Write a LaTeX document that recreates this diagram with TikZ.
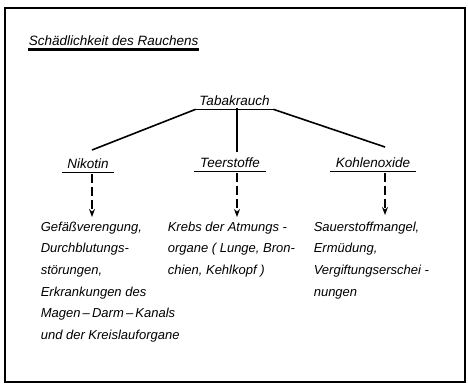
\documentclass[tikz,border=0pt]{standalone}
\usepackage{fontspec}
\setmainfont{Liberation Sans}
\usetikzlibrary{arrows.meta, positioning}

\begin{document}
\begin{tikzpicture}[x=1pt, y=-1pt, >={Stealth[length=8pt, width=6pt]}, line width=1.6pt,
        head/.style={font=\itshape\fontsize{13.5}{15}\selectfont, inner xsep=5pt, inner ysep=0pt, text height=10pt, text depth=3pt},
        effect/.style={font=\itshape\fontsize{13}{21.6}\selectfont, align=left, inner sep=0pt, anchor=north west},
        branch/.style={draw},
        cause/.style={draw, dashed, dash pattern=on 9pt off 4pt, ->}]
        \useasboundingbox (0,0) rectangle (468,386);
        \draw[line width=1.8pt] (5,8) rectangle (465,382);

        % title
        \node [head, anchor=south west, inner xsep=0pt] (title) at (28,49) {Schädlichkeit des Rauchens};
        \draw [line width=3pt] (title.south west) -- (title.south east);

        % tree
        \node [head] (smoke) at (234.5,102) {Tabakrauch};
        \draw (smoke.south west) -- (smoke.south east);
        \node [head] (nic) at (88,165) {Nikotin};
        \draw (nic.south west) -- (nic.south east);
        \node [head] (tar) at (230,164) {Teerstoffe};
        \draw (tar.south west) -- (tar.south east);
        \node [head] (co) at (373,164) {Kohlenoxide};
        \draw (co.south west) -- (co.south east);

        \coordinate (midtop) at (237,108);
        \coordinate (midend) at (237,152);
        \coordinate (lefend) at (92,150);
        \coordinate (rigend) at (385,147);
        \path [branch] ([xshift=2pt]smoke.south west) -- (lefend);
        \path [branch] (midtop) -- (midend);
        \path [branch] ([xshift=-2pt]smoke.south east) -- (rigend);

        % effects
        \node [effect] (nicfx) at (40,221) {Gefäßverengung,\\ Durchblutungs-\\ störungen,\\ Erkrankungen des\\ Magen\,--\,Darm\,--\,Kanals\\ und der Kreislauforgane};
        \node [effect] (tarfx) at (167,221) {Krebs der Atmungs -\\ organe ( Lunge, Bron-\\ chien, Kehlkopf )};
        \node [effect] (cofx) at (313,221) {Sauerstoffmangel,\\ Ermüdung,\\ Vergiftungserschei -\\ nungen};

        \path [cause] (nic.south -| 92,0) ++(0,2) -- (92,217);
        \path [cause] (tar.south -| 237,0) ++(0,2) -- (237,217);
        \path [cause] (co.south -| 385,0) ++(0,2) -- (385,215);
\end{tikzpicture}
\end{document}
